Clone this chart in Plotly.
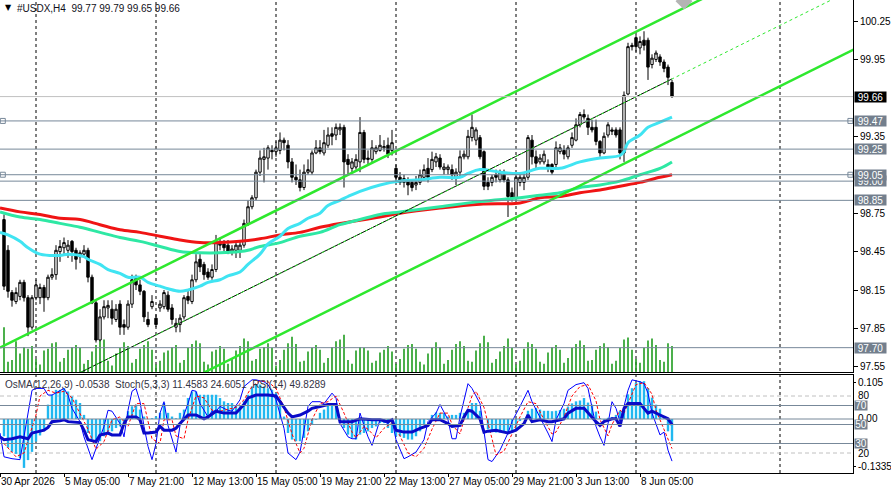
import plotly.graph_objects as go

# ---------------- data ----------------
bar_idx = list(range(168))

opens = [98.70,98.46,98.13,98.06,98.10,98.21,98.09,97.86,98.09,98.09,
98.17,98.09,98.25,98.27,98.45,98.48,98.46,98.53,98.46,98.41,
98.43,98.46,98.25,98.05,97.76,97.94,98.01,98.00,97.92,98.04,
97.88,97.86,98.04,98.25,98.19,98.14,97.92,98.02,97.93,98.01,
98.02,98.11,98.01,97.86,97.88,97.94,98.10,98.06,98.23,98.39,
98.35,98.29,98.25,98.31,98.50,98.51,98.50,98.45,98.46,98.46,
98.50,98.67,98.80,98.87,99.07,99.17,99.18,99.24,99.23,99.24,
99.32,99.28,99.15,99.03,99.01,98.95,99.07,99.07,99.22,99.26,
99.22,99.28,99.37,99.36,99.40,99.42,99.17,99.10,99.11,99.15,
99.38,99.18,99.17,99.23,99.24,99.26,99.28,99.24,99.10,99.03,
98.99,99.01,98.99,98.97,98.99,99.03,99.10,99.09,99.15,99.18,
99.09,99.09,99.09,99.03,99.07,99.19,99.19,99.34,99.32,99.34,
99.23,98.99,98.99,99.05,99.01,99.05,99.01,98.91,98.87,98.99,
98.99,99.03,99.32,99.19,99.15,99.15,99.13,99.13,99.13,99.23,
99.24,99.19,99.28,99.32,99.44,99.52,99.49,99.42,99.42,99.31,
99.22,99.36,99.40,99.40,99.40,99.22,99.68,100.06,100.12,100.04,
100.10,100.10,99.91,99.95,99.97,99.93,99.89,99.77]

highs = [98.74,98.50,98.15,98.17,98.23,98.23,98.11,98.11,98.23,98.20,
98.19,98.27,98.32,98.50,98.54,98.56,98.54,98.54,98.48,98.46,
98.50,98.48,98.27,98.07,98.00,98.07,98.07,98.07,98.04,98.07,
97.92,98.07,98.27,98.27,98.23,98.15,97.98,98.11,97.96,98.07,
98.15,98.14,98.04,97.93,97.96,98.11,98.15,98.27,98.43,98.43,
98.37,98.32,98.35,98.58,98.56,98.54,98.54,98.50,98.52,98.54,
98.70,98.85,98.89,99.09,99.24,99.26,99.28,99.28,99.31,99.38,
99.34,99.32,99.18,99.13,99.09,99.13,99.17,99.24,99.32,99.32,
99.40,99.42,99.42,99.45,99.45,99.44,99.21,99.18,99.21,99.50,
99.40,99.24,99.32,99.28,99.36,99.32,99.34,99.40,99.13,99.07,
99.05,99.03,99.01,99.04,99.09,99.13,99.18,99.23,99.22,99.21,
99.14,99.13,99.13,99.10,99.24,99.24,99.40,99.52,99.42,99.36,
99.24,99.03,99.05,99.09,99.09,99.09,99.03,98.95,99.05,99.07,
99.07,99.36,99.36,99.24,99.21,99.24,99.17,99.14,99.31,99.29,
99.28,99.28,99.38,99.49,99.54,99.56,99.52,99.48,99.48,99.32,
99.38,99.46,99.42,99.42,99.42,99.70,100.08,100.08,100.14,100.13,
100.17,100.12,99.99,100.02,99.99,99.95,99.91,99.79]

lows = [98.15,98.09,98.02,98.04,98.07,98.06,97.79,97.84,98.07,98.04,
97.98,98.07,98.23,98.23,98.37,98.43,98.40,98.37,98.31,98.36,
98.40,98.21,98.04,97.74,97.75,97.92,97.93,97.88,97.90,97.80,
97.80,97.84,98.01,98.15,98.11,97.90,97.86,98.00,97.86,97.98,
98.00,97.98,97.88,97.82,97.82,97.92,98.04,98.04,98.21,98.29,
98.23,98.23,98.23,98.29,98.46,98.45,98.43,98.42,98.40,98.40,
98.48,98.65,98.78,98.85,99.04,98.99,99.09,99.17,99.19,99.21,
99.24,99.10,98.99,98.97,98.92,98.93,99.05,99.05,99.21,99.21,
99.20,99.26,99.28,99.32,99.36,98.95,99.05,99.07,99.09,99.07,
99.14,99.13,99.15,99.21,99.23,99.23,99.18,99.20,98.99,98.97,
98.95,98.89,98.92,98.93,98.97,99.01,98.99,99.07,99.11,99.09,
99.05,99.05,99.01,98.97,99.04,99.17,99.17,99.31,99.28,99.17,
98.93,98.93,98.96,98.99,98.99,98.99,98.72,98.84,98.85,98.96,
98.93,99.01,99.13,99.10,99.13,99.13,99.07,99.05,99.10,99.21,
99.17,99.17,99.26,99.31,99.42,99.48,99.36,99.38,99.28,99.19,
99.21,99.34,99.36,99.34,99.17,99.15,99.67,100.02,100.01,99.99,
100.02,99.79,99.88,99.93,99.90,99.85,99.75,99.65]

closes = [98.18,98.14,98.07,98.13,98.21,98.09,97.86,98.09,98.19,98.17,
98.09,98.25,98.27,98.46,98.49,98.52,98.50,98.45,98.39,98.44,
98.46,98.25,98.05,97.76,97.94,98.02,98.03,97.93,98.00,97.86,
97.86,98.04,98.23,98.19,98.14,97.94,97.88,98.06,97.88,98.04,
98.13,98.00,97.92,97.89,97.93,98.09,98.07,98.23,98.37,98.33,
98.27,98.25,98.31,98.52,98.51,98.48,98.45,98.47,98.50,98.50,
98.67,98.80,98.87,99.07,99.18,99.19,99.26,99.23,99.26,99.32,
99.30,99.15,99.03,99.01,98.95,99.07,99.09,99.22,99.26,99.23,
99.30,99.36,99.35,99.42,99.42,99.15,99.13,99.15,99.17,99.38,
99.17,99.17,99.26,99.26,99.28,99.27,99.21,99.30,99.03,98.99,
99.02,98.97,98.95,98.99,99.05,99.09,99.03,99.17,99.19,99.11,
99.11,99.11,99.05,99.07,99.19,99.21,99.35,99.42,99.40,99.19,
98.96,98.96,99.03,99.03,99.07,99.01,98.88,98.87,99.03,99.03,
99.03,99.34,99.19,99.14,99.18,99.21,99.10,99.07,99.26,99.26,
99.21,99.26,99.34,99.44,99.52,99.50,99.42,99.40,99.31,99.22,
99.35,99.44,99.39,99.36,99.22,99.67,100.05,100.05,100.05,100.09,
100.06,99.89,99.96,100.00,99.93,99.88,99.81,99.66]

volumes = [4800,1100,1300,3300,2000,2700, 2500,2800,1400,800,2300,2500,
3100,3200,1100,1500,2400,2700, 2900,2600,900,1300,2200,2900,
3400,3500,1200,700,2000,2600, 3200,2800,1000,1400,2500,2900,
3300,2400,800,1200,2100,2300, 2700,2900,1000,1300,2600,3000,
3400,3100,1100,800,2200,2400, 2800,2500,900,1500,2300,2800,
3600,3300,1200,1400,2500,2700, 3100,2600,700,1300,2400,3100,
3800,3000,1100,1200,2200,2600, 2900,2400,1000,1500,2700,3300,
3500,4000,1300,900,2300,2700, 2600,2300,1000,1200,2100,2400,
2800,2200,900,1400,2500,2900, 3000,2500,1100,800,2000,2600,
3200,2700,900,1300,2400,3000, 3300,2800,1200,1100,2300,3100,
3900,3200,1000,1400,2200,2800, 3600,2600,800,1200,2500,3200,
3000,2500,1100,900,2100,2700, 2900,2400,1000,1500,2600,3000,
3400,2900,1200,1300,2400,2800, 3100,2700,900,1200,2600,3500,
3700,2400,1400,1000,2600,3400, 3600,2900,1300,1100,3100,2800]

# moving averages (bar index, price)
ma_fast_x = [-1,1,4,6,9,14,16,20,21,24,26,29,31,34,36,39,41,44,46,49,51,54,56,59,61,64,66,69,71,74,76,79,81,84,86,89,94,99,104,109,114,116,119,124,129,134,139,144,149,154,155,156,159,161,164,167]
ma_fast_y = [98.60,98.58,98.53,98.48,98.43,98.42,98.43,98.41,98.39,98.35,98.31,98.28,98.25,98.25,98.21,98.18,98.16,98.14,98.15,98.18,98.21,98.23,98.26,98.29,98.35,98.43,98.51,98.57,98.63,98.67,98.71,98.75,98.81,98.85,98.88,98.92,98.97,99.00,99.01,99.03,99.03,99.06,99.09,99.07,99.06,99.10,99.10,99.15,99.18,99.20,99.23,99.30,99.36,99.42,99.46,99.50]
ma_mid_x = [-1,4,9,14,19,24,29,34,39,44,49,54,59,61,64,69,74,79,84,89,94,99,109,119,129,134,139,144,149,154,159,164,167]
ma_mid_y = [98.76,98.72,98.70,98.67,98.64,98.60,98.56,98.53,98.49,98.45,98.44,98.44,98.45,98.46,98.49,98.52,98.57,98.60,98.66,98.70,98.74,98.76,98.80,98.84,98.87,98.89,98.91,98.95,98.97,99.00,99.05,99.10,99.15]
ma_slow_x = [-1,4,9,14,19,24,29,34,39,44,49,54,59,64,69,74,79,84,94,99,109,119,129,134,139,144,149,154,159,164,167]
ma_slow_y = [98.79,98.76,98.74,98.71,98.70,98.66,98.62,98.60,98.57,98.54,98.52,98.52,98.53,98.55,98.58,98.60,98.64,98.67,98.72,98.75,98.79,98.82,98.83,98.87,98.88,98.91,98.93,98.96,98.99,99.03,99.05]

# trend channel anchors (bar index, price)
chan_upper_x = [-1, 175]
chan_upper_y = [97.70, 100.43]
chan_mid_x = [19, 167]
chan_mid_y = [97.505, 99.798]
chan_mid_ray_x = [19, 215]
chan_mid_ray_y = [97.505, 100.541]
chan_lower_x = [50, 213]
chan_lower_y = [97.506, 100.036]

# horizontal levels
level_lines = [99.47, 99.25, 99.05, 99.00, 98.85, 97.70]
level_labels_order = [99.00, 99.47, 99.25, 99.05, 98.85, 97.70]
bid_price = 99.66
main_ticks = [97.55, 97.85, 98.15, 98.45, 98.75, 99.35, 99.95, 100.25]

# OsMA histogram (one value per bar)
osma = [-0.042,-0.070,-0.080,-0.085,-0.095,-0.119,-0.100,-0.080,-0.055,-0.040,
-0.030,0.035,0.059,0.071,0.071,0.075,0.067,0.055,0.047,0.039,
0.010,-0.034,-0.050,-0.054,-0.054,-0.042,-0.038,-0.030,-0.022,-0.018,
-0.010,0.019,0.031,0.035,0.023,0.006,0.000,0.002,0.006,0.015,
0.039,0.015,0.006,0.002,0.015,0.023,0.051,0.067,0.067,0.059,
0.059,0.059,0.059,0.059,0.051,0.043,0.039,0.039,0.031,0.031,
0.043,0.059,0.079,0.084,0.084,0.079,0.075,0.071,0.063,0.047,
0.006,-0.034,-0.050,-0.054,-0.054,-0.046,-0.030,-0.014,-0.002,0.015,
0.023,0.035,0.039,0.031,0.002,-0.022,-0.038,-0.046,-0.050,-0.038,
-0.034,-0.030,-0.022,-0.018,-0.010,-0.010,-0.022,-0.034,-0.042,-0.042,
-0.046,-0.050,-0.050,-0.042,-0.030,-0.014,-0.002,0.010,0.016,0.015,
0.015,0.006,0.010,0.010,0.015,0.015,0.018,0.039,0.039,0.020,
0.000,-0.025,-0.030,-0.033,-0.033,-0.033,-0.033,-0.033,-0.022,-0.005,
0.002,0.020,0.025,0.027,0.023,0.020,0.020,0.019,0.020,0.022,
0.025,0.030,0.038,0.043,0.045,0.051,0.040,0.035,0.018,0.002,
-0.002,0.003,0.005,0.010,0.020,0.023,0.060,0.075,0.088,0.092,
0.092,0.075,0.052,0.035,0.025,0.002,-0.030,-0.0538]

# Stochastic (5,3,3) main and signal, RSI(14)
stoch_main_x = [-1,0,2,4,7,8,10,11,12,14,15,16,17,19,20,22,23,25,26,27,29,30,31,32,33,34,35,36,37,38,39,40,41,42,43,44,46,47,48,49,51,52,53,54,56,57,59,60,62,63,65,66,68,70,71,73,74,75,76,77,79,80,81,82,83,84,86,87,88,89,90,91,92,93,94,96,97,98,100,101,103,105,106,108,109,111,112,113,114,116,117,119,120,121,122,124,126,127,129,131,132,134,136,137,138,140,141,143,145,146,147,148,149,150,151,152,153,154,155,156,157,159,160,161,162,164,165,166,167]
stoch_main_y = [41,16,14,13,86,88,88,81,81,86,88,81,67,53,37,13,25,48,65,64,51,37,65,85,88,74,48,27,13,30,62,74,49,35,21,49,72,86,85,72,58,64,64,69,65,64,76,90,97,97,95,92,76,46,20,13,21,44,69,74,74,72,78,83,78,51,37,35,35,62,49,37,28,41,55,51,55,34,14,16,21,34,53,62,71,55,35,35,58,93,88,72,41,13,11,23,41,53,69,86,74,58,41,32,55,72,86,92,94,88,69,48,37,28,51,74,67,53,69,86,97,95,93,83,62,39,42,23,11.4583]
stoch_sig_x = [0,3,5,8,9,11,13,15,17,19,21,23,25,27,29,31,33,35,36,37,39,40,42,43,45,46,48,50,52,54,56,58,60,62,64,66,68,70,72,74,75,77,79,81,83,85,87,88,90,91,93,95,97,99,101,103,105,107,109,111,112,114,115,117,118,120,122,123,125,127,129,131,133,135,137,138,140,142,144,146,148,149,151,152,154,155,157,158,160,162,163,165,166,167]
stoch_sig_y = [30,16,20,60,80,86,83,85,78,62,45,24,32,55,58,48,72,72,55,35,30,55,55,38,35,55,80,78,65,64,66,68,76,90,96,95,88,68,40,20,25,55,72,74,80,62,42,36,48,45,36,46,52,38,20,16,25,45,62,62,50,40,55,80,85,68,35,18,22,40,58,74,72,55,40,42,58,80,90,92,75,55,38,50,65,62,82,92,94,82,65,45,35,24.6051]
rsi_x = [-1,0,2,4,6,7,8,10,11,12,14,15,16,19,20,21,23,24,26,27,29,30,31,33,34,35,36,38,39,40,42,43,44,45,46,48,50,51,53,55,56,58,60,61,63,66,68,69,71,72,74,76,77,79,81,83,84,86,87,89,91,92,94,96,97,98,100,102,104,106,107,109,111,112,114,115,116,117,119,120,121,123,125,126,128,130,131,132,134,136,137,139,140,141,143,145,146,148,149,150,152,153,154,155,156,157,159,161,162,164,166,167]
rsi_y = [37,34,35,37,35,41,42,44,47,53,54,55,53,52,44,34,32,39,41,39,39,51,58,58,55,41,41,42,48,44,44,46,51,55,60,60,56,58,64,62,62,62,71,78,81,81,80,74,62,58,60,64,67,69,71,71,53,53,53,56,55,55,55,53,55,44,42,42,46,49,55,55,51,48,49,58,65,64,56,42,43,44,42,41,44,51,60,53,55,53,53,55,56,62,67,67,62,53,49,53,56,56,48,67,72,72,72,62,64,60,56,49.8289]

# time axis
tick_idx = [-1, 15, 31, 47, 63, 79, 95, 111, 127, 143, 159]
tick_labels = ["30 Apr 2026", "5 May 05:00", "7 May 21:00", "12 May 13:00", "15 May 05:00",
               "19 May 21:00", "22 May 13:00", "27 May 05:00", "29 May 21:00", "3 Jun 13:00", "8 Jun 05:00"]
week_sep_idx = [8, 38, 68, 98, 128, 158, 194]

title_text = "#USDX,H4\u00a0\u00a099.77 99.79 99.65 99.66"
ind_text = "OsMA(12,26,9) -0.0538\u00a0\u00a0Stoch(5,3,3) 11.4583 24.6051\u00a0\u00a0RSI(14) 49.8289"

# ---------------- styling ----------------
FONT = "Liberation Sans, Arial, sans-serif"
SLATE = "#778899"
LBLBOX = "#737f8d"
W, H = 891, 492
ML, MR, MT, MB = 0, 38, 0, 19
PW = W - ML - MR
PH = H - MT - MB
main_dom = [(PH - 372) / PH, 1.0]
ind_dom = [0.0, (PH - 375) / PH]

fig = go.Figure()

# volume on base axis of main panel
fig.add_trace(go.Bar(x=bar_idx, y=volumes, width=0.4, marker=dict(color="#1f9c1f", line=dict(width=0)),
                     xaxis="x", yaxis="y", hoverinfo="skip"))

# moving averages
fig.add_trace(go.Scatter(x=ma_slow_x, y=ma_slow_y, mode="lines", line=dict(color="#f01414", width=3, shape="spline"),
                         xaxis="x", yaxis="y2"))
fig.add_trace(go.Scatter(x=ma_mid_x, y=ma_mid_y, mode="lines", line=dict(color="#2ee8a4", width=3, shape="spline"),
                         xaxis="x", yaxis="y2"))
fig.add_trace(go.Scatter(x=ma_fast_x, y=ma_fast_y, mode="lines", line=dict(color="#40e4f2", width=3, shape="spline"),
                         xaxis="x", yaxis="y2"))

# channel
fig.add_trace(go.Scatter(x=chan_upper_x, y=chan_upper_y, mode="lines", line=dict(color="#2ee82e", width=2.5),
                         xaxis="x", yaxis="y2"))
fig.add_trace(go.Scatter(x=chan_lower_x, y=chan_lower_y, mode="lines", line=dict(color="#2ee82e", width=2.5),
                         xaxis="x", yaxis="y2"))
fig.add_trace(go.Scatter(x=chan_mid_x, y=chan_mid_y, mode="lines", line=dict(color="black", width=1),
                         xaxis="x", yaxis="y2"))
fig.add_trace(go.Scatter(x=chan_mid_ray_x, y=chan_mid_ray_y, mode="lines",
                         line=dict(color="#2ee82e", width=1, dash="3px,3px"), xaxis="x", yaxis="y2"))

# candles
fig.add_trace(go.Candlestick(x=bar_idx, open=opens, high=highs, low=lows, close=closes,
                             increasing=dict(line=dict(color="black", width=1), fillcolor="white"),
                             decreasing=dict(line=dict(color="black", width=1), fillcolor="black"),
                             whiskerwidth=0, xaxis="x", yaxis="y2", hoverinfo="skip"))

# handles of selected lines and trendline anchor
fig.add_trace(go.Scatter(x=[-0.3, 211.6, -0.3, 211.6], y=[99.47, 99.47, 99.05, 99.05], mode="markers",
                         marker=dict(symbol="square", size=5, color="white", line=dict(color=SLATE, width=1)),
                         xaxis="x", yaxis="y2", cliponaxis=False))
fig.add_trace(go.Scatter(x=[170], y=[100.405], mode="markers",
                         marker=dict(symbol="diamond", size=13, color="#b4b4b4"),
                         xaxis="x", yaxis="y2"))

# indicator window
fig.add_trace(go.Bar(x=bar_idx, y=osma, width=0.6, marker=dict(color="#20b8f0", line=dict(width=0)),
                     xaxis="x2", yaxis="y3", hoverinfo="skip"))
fig.add_trace(go.Scatter(x=stoch_main_x, y=stoch_main_y, mode="lines", line=dict(color="#0000ff", width=1),
                         xaxis="x2", yaxis="y4"))
fig.add_trace(go.Scatter(x=stoch_sig_x, y=stoch_sig_y, mode="lines", line=dict(color="#ff0000", width=1, dash="3px,2px"),
                         xaxis="x2", yaxis="y4"))
fig.add_trace(go.Scatter(x=rsi_x, y=rsi_y, mode="lines", line=dict(color="#0a0ac8", width=3),
                         xaxis="x2", yaxis="y4"))

shapes = []
for s in week_sep_idx:
    shapes.append(dict(type="line", xref="x", yref="paper", x0=s, x1=s, y0=0, y1=1,
                       line=dict(color="black", width=1, dash="3px,3px"), layer="below"))
for lv in level_lines:
    shapes.append(dict(type="line", xref="paper", yref="y2", x0=0, x1=1, y0=lv, y1=lv,
                       line=dict(color=SLATE, width=1), layer="above"))
shapes.append(dict(type="line", xref="paper", yref="y2", x0=0, x1=1, y0=bid_price, y1=bid_price,
                   line=dict(color="#c0c0c0", width=1), layer="above"))
for lv in (80, 20):
    shapes.append(dict(type="line", xref="paper", yref="y4", x0=0, x1=1, y0=lv, y1=lv,
                       line=dict(color="#c0c0c0", width=1, dash="4px,3px"), layer="below"))
for lv in (70, 50, 30):
    shapes.append(dict(type="line", xref="paper", yref="y4", x0=0, x1=1, y0=lv, y1=lv,
                       line=dict(color=SLATE, width=1), layer="above"))
shapes.append(dict(type="line", xref="paper", yref="y3", x0=0, x1=1, y0=0, y1=0,
                   line=dict(color=SLATE, width=1), layer="above"))

ann = []
ann.append(dict(text="▼", x=3 / PW, xref="paper", y=1, yref="paper", xanchor="left", yanchor="top",
                yshift=-1, showarrow=False, font=dict(size=8, color="black", family="DejaVu Sans")))
ann.append(dict(text=title_text, x=15 / PW, xref="paper", y=1, yref="paper", xanchor="left", yanchor="top",
                yshift=-1, showarrow=False, font=dict(size=10, color="#101020", family=FONT)))
ann.append(dict(text=ind_text, x=3 / PW, xref="paper", y=ind_dom[1], yref="paper", xanchor="left", yanchor="top",
                yshift=-2, showarrow=False, font=dict(size=10, color="#333344", family=FONT)))
for t, lbl in zip(tick_idx, tick_labels):
    ann.append(dict(text=lbl, x=t, xref="x2", y=0, yref="paper", xanchor="left", yanchor="top",
                    xshift=-1, yshift=-1, showarrow=False, font=dict(size=10, color="black", family=FONT)))
for lv in level_labels_order:
    ann.append(dict(text=f"{lv:.2f}", x=1, xref="paper", y=lv, yref="y2", xanchor="left", yanchor="middle",
                    xshift=1, showarrow=False, bgcolor=LBLBOX, width=31, height=10, borderpad=0,
                    font=dict(size=10, color="white", family=FONT)))
ann.append(dict(text=f"{bid_price:.2f}", x=1, xref="paper", y=bid_price, yref="y2", xanchor="left",
                yanchor="middle", xshift=1, showarrow=False, bgcolor="black", width=31, height=10, borderpad=0,
                font=dict(size=10, color="white", family=FONT)))
# indicator scale labels
ind_plain = [("0.105", 93.7), ("80", 80.5), ("0.00", 55.8), ("20", 19.5), ("-0.1335", 6.3)]
for txt, v in ind_plain:
    ann.append(dict(text=txt, x=1, xref="paper", y=v, yref="y4", xanchor="left", yanchor="middle",
                    xshift=3, showarrow=False, font=dict(size=10, color="black", family=FONT)))
for txt, v in [("70", 70), ("50", 50), ("30", 30)]:
    ann.append(dict(text=txt, x=1, xref="paper", y=v, yref="y4", xanchor="left", yanchor="middle",
                    xshift=1, showarrow=False, bgcolor=LBLBOX, width=12, height=9, borderpad=0,
                    font=dict(size=10, color="white", family=FONT)))

xr = [-1, PW / 4 - 1]
fig.update_layout(
    width=W, height=H, autosize=False,
    margin=dict(l=ML, r=MR, t=MT, b=MB, pad=0),
    paper_bgcolor="white", plot_bgcolor="white",
    showlegend=False, hovermode=False, barmode="overlay",
    boxgap=0.4, boxgroupgap=0,
    font=dict(family=FONT, size=10, color="black"),
    xaxis=dict(domain=[0, 1], anchor="y", range=xr, showgrid=False, zeroline=False,
               showticklabels=False, ticks="", showline=True, linecolor="black", linewidth=1,
               rangeslider=dict(visible=False), fixedrange=True),
    xaxis2=dict(domain=[0, 1], anchor="y3", matches="x", range=xr, showgrid=False, zeroline=False,
                showticklabels=False, tickvals=tick_idx, ticks="outside", ticklen=3, tickcolor="black",
                showline=True, mirror=True, linecolor="black", linewidth=1,
                rangeslider=dict(visible=False)),
    yaxis=dict(domain=main_dom, range=[0, 40000], visible=False, fixedrange=True),
    yaxis2=dict(overlaying="y", anchor="x", side="right", range=[97.510, 100.414],
                tickvals=main_ticks, ticktext=[f"{v:.2f}" for v in main_ticks],
                ticks="outside", ticklen=4, tickcolor="black", showgrid=False, zeroline=False,
                showline=True, linecolor="black", linewidth=1,
                tickfont=dict(size=10, color="black", family=FONT)),
    yaxis3=dict(domain=ind_dom, range=[-0.1314, 0.1071], visible=False),
    yaxis4=dict(overlaying="y3", anchor="x2", side="right", range=[-1.05, 102.1],
                tickvals=[93.7, 6.3], showticklabels=False, ticks="outside", ticklen=2,
                tickcolor="black", showgrid=False, zeroline=False,
                showline=True, linecolor="black", linewidth=1),
    shapes=shapes, annotations=ann,
)

fig.write_html("out.html", config={"displayModeBar": False, "staticPlot": True},
               post_script="document.body.style.margin='0px';")
